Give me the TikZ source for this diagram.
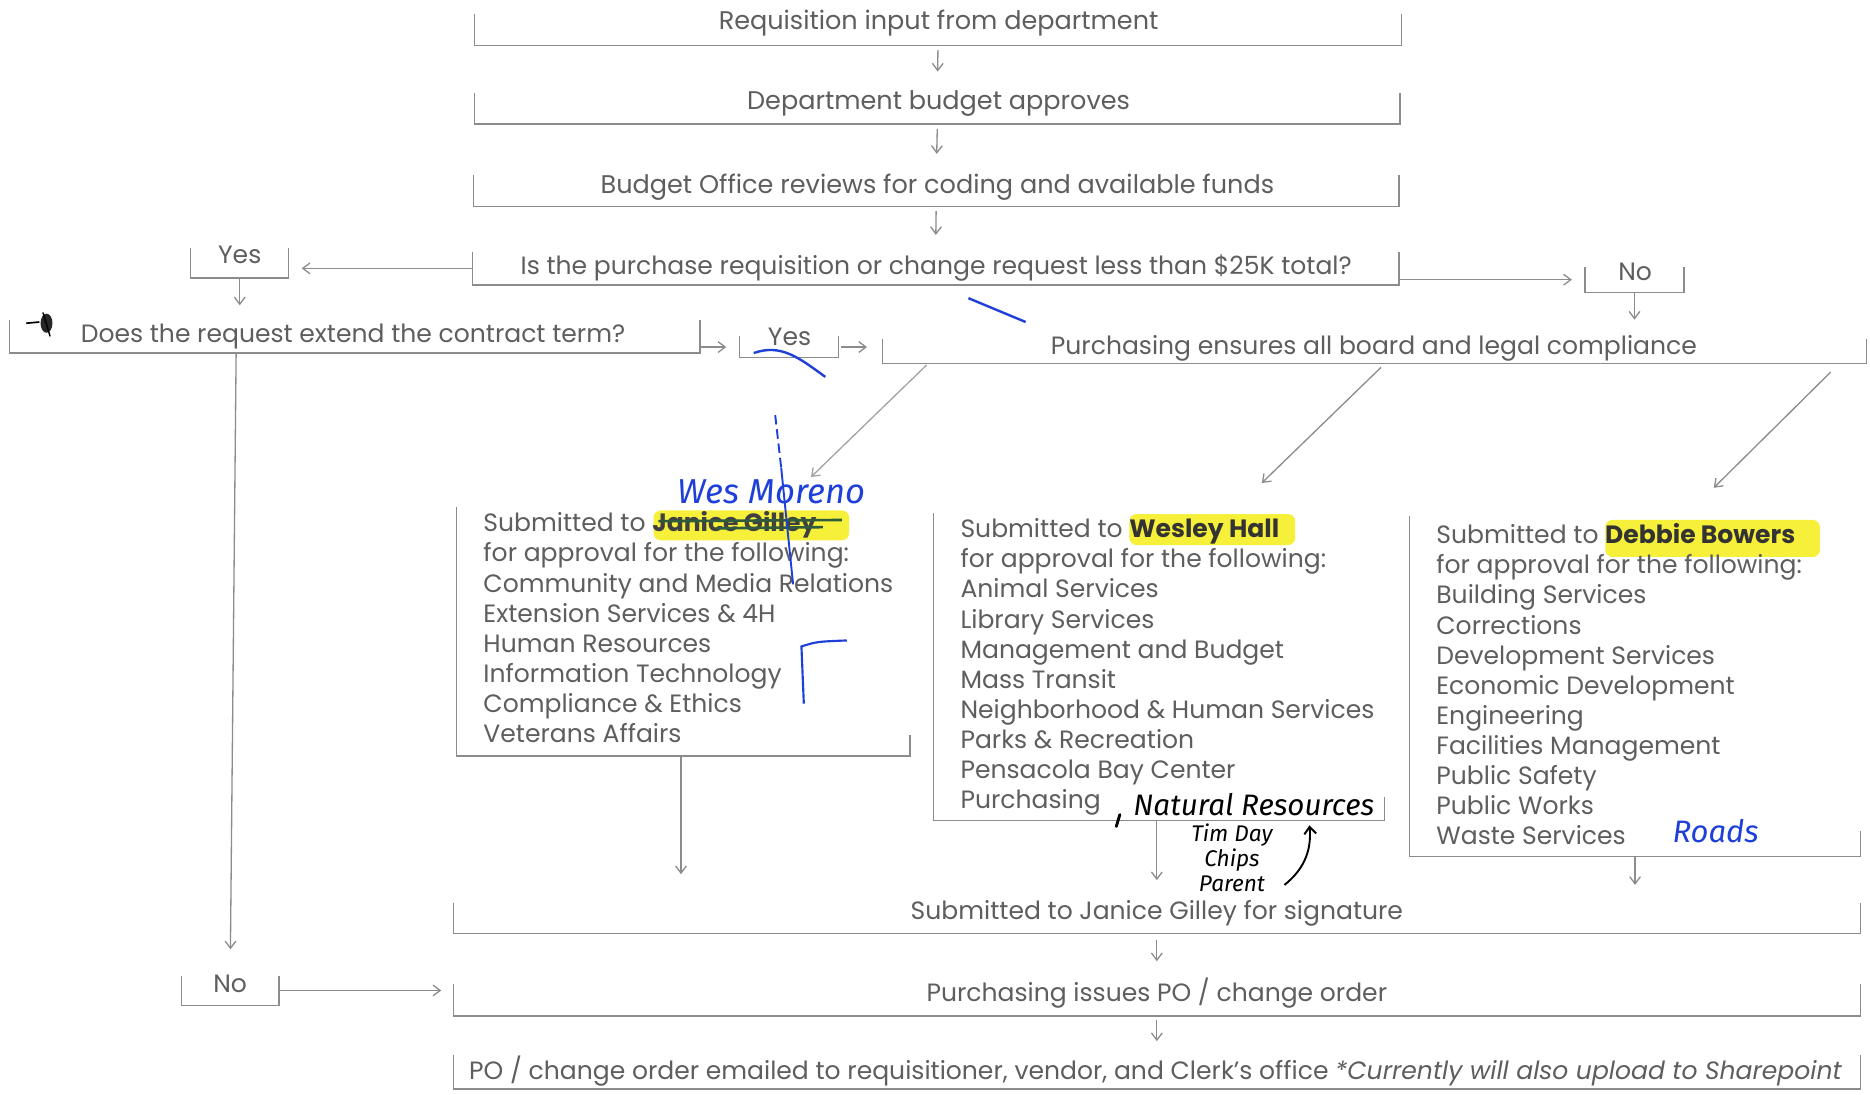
\documentclass[tikz,border=0pt]{standalone}
\usepackage{fontspec}
\setmainfont{Poppins}
\newfontfamily\handfont{Fira Sans}
\usetikzlibrary{arrows.meta,calc,fit}
\definecolor{txt}{HTML}{5E5E5E}
\definecolor{lnc}{HTML}{8C8C8C}
\definecolor{pen}{HTML}{1E3FD8}
\definecolor{hl}{HTML}{F6F03A}
\definecolor{strk}{HTML}{2F5A3C}
\begin{document}
\begin{tikzpicture}[x=0.5pt,y=-0.5pt,
 bx/.style={inner sep=0pt, outer sep=0pt},
 brk/.style={draw=lnc, line width=0.55pt},
 tx/.style={text=txt, font=\fontsize{10.5}{12}\selectfont, inner sep=0pt, anchor=base},
 txl/.style={tx, font=\fontsize{10.7}{12}\selectfont},
 lst/.style={text=txt, font=\fontsize{10.5}{12.6}\selectfont, inner sep=0pt, anchor=base west},
 arr/.style={draw=lnc, line width=0.55pt, -{Straight Barb[length=3pt,width=4.5pt]}},
 hand/.style={font=\handfont\itshape\fontsize{13}{13}\selectfont, inner sep=0pt, anchor=base west},
]
\useasboundingbox (0,0) rectangle (1568,918);
\fill[white] (0,0) rectangle (1568,918);

% highlights
\fill[hl, rounded corners=3pt] (548,428) rectangle (712,453);
\fill[hl, rounded corners=3pt] (947,431) rectangle (1086,457);
\fill[hl, rounded corners=3pt] (1346,436) rectangle (1526,467);

% boxes (open brackets)
\newcommand\ubox[5]{\node[bx, fit={(#2,#3) (#4,#5)}] (#1) {};
  \draw[brk] (#1.north west) -- (#1.south west) -- (#1.south east) -- (#1.north east);}
\ubox{b1}{398}{12}{1175}{38}
\ubox{b2}{398}{78}{1174}{104}
\ubox{b3}{397}{147}{1173}{173}
\ubox{b4}{396}{211}{1173}{239}
\ubox{yes1}{160}{208}{242}{233}
\ubox{b5}{8}{268}{587}{296}
\ubox{yes2}{620}{282}{703}{300}
\ubox{b6}{740}{284}{1565}{305}
\ubox{no1}{1329}{224}{1412}{245}
\ubox{b10}{380}{757}{1560}{783}
\ubox{no2}{152}{818}{234}{843}
\ubox{b11}{380}{825}{1560}{852}
\ubox{b12}{380}{885}{1560}{913}
% list boxes: right side only near the bottom
\node[bx, fit={(383,425) (763,634)}] (b7) {};
\draw[brk] (b7.north west) -- (b7.south west) -- (b7.south east) -- ++(0,-18);
\node[bx, fit={(783,430) (1161,688)}] (b8) {};
\draw[brk] (b8.north west) -- (b8.south west) -- (b8.south east) -- ++(0,-20);
\node[bx, fit={(1182,433) (1560,718)}] (b9) {};
\draw[brk] (b9.north west) -- (b9.south west) -- (b9.south east) -- ++(0,-21);

% texts
\node[txl] (t1) at (787,25) {Requisition input from department};
\node[txl] (t2) at (787,92) {Department budget approves};
\node[txl] (t3) at (786,162) {Budget Office reviews for coding and available funds};
\node[tx] (t4) at (785,230) {Is the purchase requisition or change request less than \$25K total?};
\node[tx] (ty1) at (201,221) {Yes};
\node[tx] (t5) at (296,287) {Does the request extend the contract term?};
\node[tx] (ty2) at (662,290) {Yes};
\node[tx] (t6) at (1152,297) {Purchasing ensures all board and legal compliance};
\node[tx] (tn1) at (1371,235) {No};
\node[tx] (t10) at (970,771) {Submitted to Janice Gilley for signature};
\node[tx] (tn2) at (193,832) {No};
\node[tx] (t11) at (970,840) {Purchasing issues PO / change order};
\node[tx] (t12) at (969,905) {PO / change order emailed to requisitioner, vendor, and Clerk's office \textit{*Currently will also upload to Sharepoint}};

% icon
\draw[black, line width=0.7pt] (22,271) -- (33,270);
\fill[black!85] (39,271) ellipse [x radius=5, y radius=8];
\draw[black, line width=0.6pt] (36,262) -- (42,282);

% list texts
\node[lst] (l7h) at (405,446) {Submitted to \textcolor{black!75}{\textbf{Janice Gilley}}};
\foreach [count=\i] \t in {for approval for the following:, Community and Media Relations, Extension Services \& 4H, Human Resources, Information Technology, Compliance \& Ethics, Veterans Affairs}
  \node[lst] (l7-\i) at (405,446+\i*25.2) {\t};
\node[lst] (l8h) at (805,451) {Submitted to \textcolor{black!80}{\textbf{Wesley Hall}}};
\foreach [count=\i] \t in {for approval for the following:, Animal Services, Library Services, Management and Budget, Mass Transit, Neighborhood \& Human Services, Parks \& Recreation, Pensacola Bay Center, Purchasing}
  \node[lst] (l8-\i) at (805,451+\i*25.2) {\t};
\node[lst] (l9h) at (1204,456) {Submitted to \textcolor{black!80}{\textbf{Debbie Bowers}}};
\foreach [count=\i] \t in {for approval for the following:, Building Services, Corrections, Development Services, Economic Development, Engineering, Facilities Management, Public Safety, Public Works, Waste Services}
  \node[lst] (l9-\i) at (1204,456+\i*25.2) {\t};

% connectors
\draw[arr, shorten <=2pt, shorten >=9pt] (b1.south) -- (b2.north);
\draw[arr, shorten <=2pt, shorten >=9pt] (b2.south) -- (b3.north);
\draw[arr, shorten <=2pt, shorten >=7pt] (b3.south) -- (b4.north);
\draw[arr, shorten >=5.5pt] (b4.west) -- (yes1.east |- b4.west);
\draw[arr, shorten >=6pt] (yes1.south) -- (yes1.south |- b5.north);
\draw[arr, shorten >=5.5pt] (b4.east |- no1.west) -- (no1.west);
\draw[arr, shorten >=8pt] (no1.south) -- (no1.south |- b6.north);
\draw[arr, shorten >=5.5pt] (b5.east |- yes2.west) -- (yes2.west);
\draw[arr, shorten <=1pt, shorten >=6.5pt] (yes2.east) -- (b6.west |- yes2.east);
\draw[arr, draw=lnc!80] ($(b6.south west)+(37,1)$) -- ($(b7.north east)+(-83,-25)$);
\draw[arr] ($(b6.south west)+(418,3)$) -- ($(b8.north west)+(275,-25)$);
\draw[arr] ($(b6.south east)+(-30,7)$) -- ($(b9.north west)+(255,-24)$);
\draw[arr, shorten >=12pt] ($(b7.south)+(-2,0)$) -- ($(b7.south |- b10.north)+(-2,0)$);
\draw[arr, shorten >=9.5pt] ($(b8.south)+(-2,0)$) -- ($(b8.south |- b10.north)+(-2,0)$);
\draw[arr, shorten >=7.5pt] (b9.south) -- (b9.south |- b10.north);
\draw[arr, shorten >=11pt] ($(no2.north |- b5.south)+(5,0)$) -- (no2.north);
\draw[arr, shorten >=5pt] (no2.east) -- (b11.west |- no2.east);
\draw[arr, shorten <=2.5pt, shorten >=9.5pt] (b10.south) -- (b11.north);
\draw[arr, shorten <=1.5pt, shorten >=6pt] (b11.south) -- (b12.north);

% handwritten annotations
\draw[strk, line width=1.1pt] (552,437) -- (706,436);
\draw[strk, line width=1.1pt] (600,443) -- (690,442);
\draw[pen, line width=0.8pt, dash pattern=on 4pt off 2pt] (650,348) -- (655,392);
\draw[pen, line width=0.8pt] (655,392) -- (665,490);
\draw[pen, line width=0.9pt] (674,590) -- (672,542) .. controls (685,538) .. (710,537);
\draw[pen, line width=1pt] (632,296) .. controls (655,288) and (670,300) .. (692,316);
\draw[pen, line width=1pt] (812,250) -- (860,270);
\node[hand, text=pen, font=\handfont\itshape\fontsize{14.5}{14.5}\selectfont] (wes) at (568,422) {Wes Moreno};
\node[hand, text=black, font=\handfont\itshape\fontsize{12.4}{12.4}\selectfont] (nat) at (950,684) {Natural Resources};
\draw[black, line width=1.2pt, line cap=round] (939,683) -- (936,693);
\node[hand, text=black, font=\handfont\itshape\fontsize{9.5}{10.5}\selectfont, align=center, anchor=north] (tim) at (1033,690) {Tim Day\\Chips\\Parent};
\draw[black, line width=0.8pt, -{Straight Barb[length=3pt,width=5pt]}] (1077,742) .. controls (1092,730) and (1100,715) .. (1098,692);
\node[hand, text=pen] (roads) at (1402,706) {Roads};
\end{tikzpicture}
\end{document}
